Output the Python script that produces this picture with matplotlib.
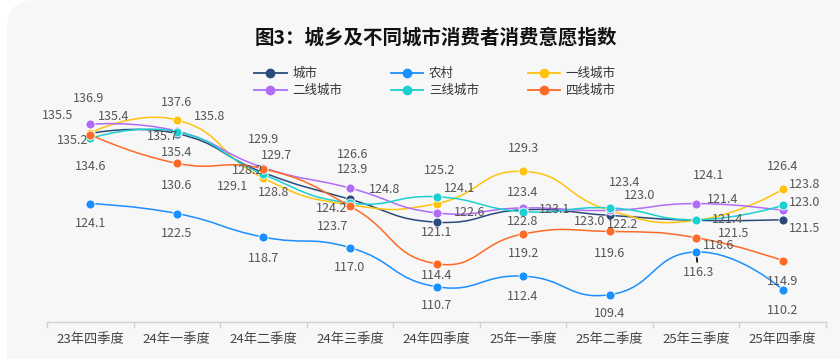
import numpy as np
import matplotlib
matplotlib.use('Agg')
import matplotlib.pyplot as plt
from matplotlib.path import Path
from matplotlib.patches import PathPatch, FancyBboxPatch
from matplotlib.lines import Line2D

plt.rcParams['font.family'] = ['Noto Sans CJK SC', 'DejaVu Sans']

quarters = ['23年四季度', '24年一季度', '24年二季度', '24年三季度', '24年四季度',
            '25年一季度', '25年二季度', '25年三季度', '25年四季度']
names = ['城市', '农村', '一线城市', '二线城市', '三线城市', '四线城市']
city = [135.4, 135.4, 129.1, 124.8, 121.1, 123.1, 122.2, 121.4, 121.5]
rural = [124.1, 122.5, 118.7, 117.0, 110.7, 112.4, 109.4, 116.3, 110.2]
tier1 = [135.5, 137.6, 128.2, 123.9, 124.1, 129.3, 123.0, 121.4, 126.4]
tier2 = [136.9, 135.8, 129.9, 126.6, 122.6, 123.4, 123.0, 124.1, 123.0]
tier3 = [134.6, 135.7, 128.8, 124.2, 125.2, 122.8, 123.4, 121.5, 123.8]
tier4 = [135.2, 130.6, 129.7, 123.7, 114.4, 119.2, 119.6, 118.6, 114.9]
series = [city, rural, tier1, tier2, tier3, tier4]
colors = ['#2b4a7a', '#1a8fff', '#ffc20e', '#b06cf7', '#1ccfd0', '#ff6a26']

# label offsets in pixels (dx, dy up) to mimic the reference layout
offsets = [
    [(23, 17), (0, -19), (-31, -14), (35, 10), (0, -10), (32, 0), (13, -9), (31, 1), (22, -9)],
    [(0, -20), (0, -20), (0, -21), (0, -20), (0, -19), (0, -20), (0, -19), (2, -21), (0, -21)],
    [(-33, 17), (0, 17), (-16, 8), (3, 35), (23, 15), (0, 23), (-20, -11), (26, 21), (0, 23)],
    [(-2, 26), (33, 15), (0, 28), (3, 34), (33, 0), (0, 15), (30, 15), (12, 28), (22, 8)],
    [(0, -28), (-14, -5), (10, -18), (-18, -6), (3, 26), (0, -10), (15, 25), (37, -14), (22, 21)],
    [(-18, -6), (0, -22), (13, 13), (-17, -20), (0, -12), (0, -20), (0, -22), (22, -8), (0, -21)],
]


def smooth_path(xs, ys, sx, sy, smooth=0.5):
    px = np.asarray(xs, float) * sx
    py = np.asarray(ys, float) * sy
    n = len(px)
    verts = [(px[0], py[0])]
    codes = [Path.MOVETO]
    c0 = (px[0], py[0])
    for i in range(1, n):
        if i == n - 1:
            c1 = (px[i], py[i])
            nxt = None
        else:
            vx = px[i + 1] - px[i - 1]
            vy = py[i + 1] - py[i - 1]
            d0 = np.hypot(px[i] - px[i - 1], py[i] - py[i - 1])
            d1 = np.hypot(px[i + 1] - px[i], py[i + 1] - py[i])
            r = d1 / (d0 + d1)
            c1 = (px[i] - vx * smooth * (1 - r), py[i] - vy * smooth * (1 - r))
            nxt = (px[i] + vx * smooth * r, py[i] + vy * smooth * r)
        verts += [c0, c1, (px[i], py[i])]
        codes += [Path.CURVE4] * 3
        c0 = nxt
    verts = np.array(verts)
    verts[:, 0] /= sx
    verts[:, 1] /= sy
    return Path(verts, codes)


fig = plt.figure(figsize=(8.4, 3.59), dpi=100, facecolor='white')
panel = FancyBboxPatch((7, -40), 900, 399, boxstyle='round,pad=0,rounding_size=28',
                       transform=None, facecolor='#f7f7f7', edgecolor='none', zorder=0)
fig.add_artist(panel)

ax = fig.add_axes([47 / 840, 37 / 359, 779 / 840, 217 / 359])
ax.set_facecolor('none')
x = np.arange(len(quarters))

for k, (vals, col) in enumerate(zip(series, colors)):
    p = smooth_path(x, vals, 86.6, 6.2)
    ax.add_patch(PathPatch(p, facecolor='none', edgecolor=col, lw=1.1, zorder=2 + k))
    ax.plot(x, vals, 'o', color=col, ms=6.5, mec='white', mew=0.6, zorder=2.5 + k)
    for i, v in enumerate(vals):
        dx, dy = offsets[k][i]
        ax.annotate(f'{v:.1f}', (x[i], v), xytext=(dx, dy), textcoords='offset pixels',
                    ha='center', va='center', fontsize=9, color='#555555', zorder=20)

# leader line for the rural 25Q3 label
ax.annotate('', xy=(7, 116.3), xytext=(1, -10), textcoords='offset pixels',
            arrowprops=dict(arrowstyle='-', color='black', lw=1.2, shrinkA=0, shrinkB=3))

ax.set_xlim(-0.5, len(quarters) - 0.5)
ax.set_ylim(105, 140)
ax.set_xticks(x)
ax.set_xticklabels(quarters, fontsize=9.5, color='#444444')
ax.set_xticks(np.arange(-0.5, len(quarters)), minor=True)
ax.tick_params(axis='x', which='major', length=0, pad=8)
ax.tick_params(axis='x', which='minor', length=4, color='#d0d0d0', width=1)
ax.set_yticks([])
for s in ['top', 'right', 'left']:
    ax.spines[s].set_visible(False)
ax.spines['bottom'].set_color('#d0d0d0')
ax.spines['bottom'].set_linewidth(1)

fig.text(436 / 840, 1 - 38 / 359, '图3：城乡及不同城市消费者消费意愿指数', ha='center', va='center',
         fontsize=14, fontweight='bold', color='#111111')

# legend fills column-wise, so reorder to read row-wise like the reference
handles = [Line2D([0], [0], color=c, lw=1.3, marker='o', ms=6) for c in colors]
order = [0, 3, 1, 4, 2, 5]
fig.legend([handles[i] for i in order], [names[i] for i in order], loc='center',
           bbox_to_anchor=(435 / 840, 1 - 82 / 359), ncol=3,
           frameon=False, fontsize=9, handlelength=2.6, handletextpad=0.45,
           columnspacing=3.9, labelspacing=0.3, labelcolor='#333333')

fig.savefig('out.png', dpi=100, facecolor='white')
